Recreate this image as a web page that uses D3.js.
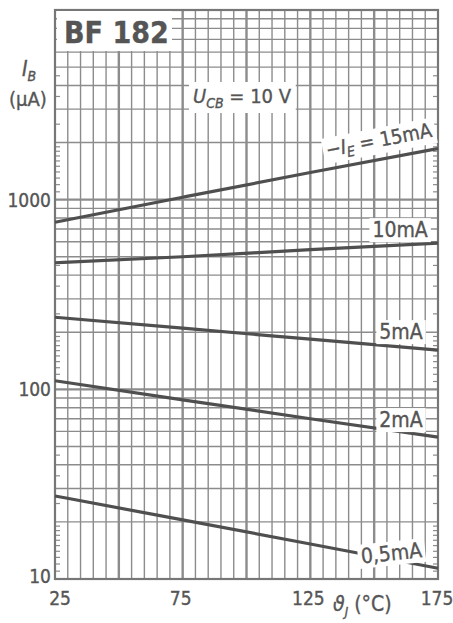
<!DOCTYPE html>
<html>
<head>
<meta charset="utf-8">
<script src="https://cdn.jsdelivr.net/npm/d3@7"></script>
<style>
  body { margin: 0; background: #fff; }
  svg { display: block; }
  text { font-family: "DejaVu Sans", sans-serif; font-stretch: condensed; fill: #555; stroke: #555; stroke-width: 0.35; }
</style>
</head>
<body>
<svg id="plotSvg" width="453" height="623"></svg>
<script>
// temperatures (°C) at which the curves were read
var temps = [25, 75, 125, 175];
// base current I_B (µA) for each emitter current
var ib15 = [760, 1030, 1390, 1860];
var ib10 = [465, 500, 545, 590];
var ib5 = [240, 210, 184, 161];
var ib2 = [111, 88, 70, 56];
var ib05 = [27.4, 20.5, 15.3, 11.4];
var curveNames = ["15mA", "10mA", "5mA", "2mA", "0,5mA"];
var xTicks = [25, 75, 125, 175];
var yTicks = [10, 100, 1000];

var svg = d3.select("#plotSvg");
var margin = {top: 10, left: 55};
var width = 383, height = 569;
var g = svg.append("g").attr("transform", "translate(" + margin.left + "," + margin.top + ")");

var x = d3.scaleLinear().domain([25, 175]).range([0, width]);
var y = d3.scaleLog().domain([10, 10000]).range([height, 0]);

// vertical grid, every 5 °C
var vlines = d3.range(30, 175, 5);
g.selectAll(".vgrid")
    .data(vlines)
    .enter().append("line")
    .attr("x1", function (d) { return x(d); })
    .attr("x2", function (d) { return x(d); })
    .attr("y1", 0).attr("y2", height)
    .attr("stroke", "#8c8c8c")
    .attr("stroke-width", function (d) { return d % 25 == 0 ? 2.4 : 1.4; });

// horizontal grid, 1..9 per decade
var hlines = [];
[10, 100, 1000].forEach(function (dec) {
    for (var k = 1; k <= 9; k++) hlines.push(dec * k);
});
g.selectAll(".hgrid")
    .data(hlines.slice(1))
    .enter().append("line")
    .attr("x1", 0).attr("x2", width)
    .attr("y1", function (d) { return y(d); })
    .attr("y2", function (d) { return y(d); })
    .attr("stroke", "#8c8c8c")
    .attr("stroke-width", function (d) { return yTicks.indexOf(d) >= 0 ? 2.4 : 1.4; });

// small ticks inside the frame
var minor = [];
[10, 100, 1000].forEach(function (dec) {
    [1.1, 1.2, 1.3, 1.4, 1.5, 1.6, 1.7, 1.8, 1.9, 2.5, 3.5, 4.5].forEach(function (k) {
        minor.push(dec * k);
    });
});
[0, width].forEach(function (edge) {
    g.selectAll(null)
        .data(minor)
        .enter().append("line")
        .attr("x1", edge).attr("x2", edge == 0 ? 5 : width - 5)
        .attr("y1", function (d) { return y(d); })
        .attr("y2", function (d) { return y(d); })
        .attr("stroke", "#8c8c8c")
        .attr("stroke-width", 1.2);
});

// frame
g.append("rect")
    .attr("width", width).attr("height", height)
    .attr("fill", "none")
    .attr("stroke", "#777")
    .attr("stroke-width", 2.2);

// curves
var series = [ib15, ib10, ib5, ib2, ib05];
var line = d3.line()
    .x(function (d, i) { return x(temps[i]); })
    .y(function (d) { return y(d); })
    .curve(d3.curveMonotoneX);

g.selectAll(".curve")
    .data(series)
    .enter().append("path")
    .attr("d", line)
    .attr("fill", "none")
    .attr("stroke", "#4f4f4f")
    .attr("stroke-width", 3.2);

// title box
g.append("rect")
    .attr("x", 2).attr("y", 1).attr("width", 115).attr("height", 40)
    .attr("fill", "#fff");
g.append("text")
    .attr("x", 9).attr("y", 33)
    .attr("font-size", 30).attr("font-weight", "bold")
    .text("BF 182");

function boxedLabel(parts, tx, ty, angle, size) {
    var lg = g.append("g").attr("transform", "translate(" + tx + "," + ty + ") rotate(" + angle + ")");
    var bg = lg.append("rect").attr("fill", "#fff");
    var t = lg.append("text").attr("font-size", size).attr("text-anchor", "end");
    parts.forEach(function (p) {
        var s = t.append("tspan").text(p.t);
        if (p.sub) s.attr("font-size", size * 0.7).attr("dy", 4);
        if (p.up) s.attr("dy", -4);
        if (p.it) s.attr("font-style", "italic");
    });
    var b = t.node().getBBox();
    bg.attr("x", b.x - 3).attr("y", b.y).attr("width", b.width + 6).attr("height", b.height);
}

// curve labels
boxedLabel([{t: "−I", it: true}, {t: "E", sub: true, it: true}, {t: " = 15" + curveNames[0].slice(2), up: true}],
    x(173), y(ib15[3]) - 12, -11, 20);
boxedLabel([{t: curveNames[1]}], x(171), y(ib10[3]) - 6, 0, 21);
boxedLabel([{t: curveNames[2]}], x(169), y(ib5[3]) - 11, 0, 21);
boxedLabel([{t: curveNames[3]}], x(169), y(ib2[3]) - 10, 0, 21);
boxedLabel([{t: curveNames[4]}], x(169), y(ib05[3]) - 11, -6, 21);

// U_CB label
var ul = g.append("g");
var ubg = ul.append("rect").attr("fill", "#fff");
var ut = ul.append("text").attr("x", 138).attr("y", 93).attr("font-size", 20);
ut.append("tspan").attr("font-style", "italic").text("U");
ut.append("tspan").attr("font-style", "italic").attr("font-size", 14).attr("dy", 5).text("CB");
ut.append("tspan").attr("dy", -5).text(" = 10 V");
var ub = ut.node().getBBox();
ubg.attr("x", ub.x - 4).attr("y", ub.y - 2).attr("width", ub.width + 8).attr("height", ub.height + 4);

// y tick labels
svg.selectAll(".ylab")
    .data(yTicks)
    .enter().append("text")
    .attr("x", 51)
    .attr("y", function (d) { return margin.top + y(d) + (d == 10 ? 4 : 7); })
    .attr("text-anchor", "end")
    .attr("font-size", 19)
    .text(function (d) { return d; });

// x tick labels
svg.selectAll(".xlab")
    .data(xTicks)
    .enter().append("text")
    .attr("x", function (d) { return margin.left + x(d) + (d == 25 ? 5 : d == 175 ? -1 : -2); })
    .attr("y", 605)
    .attr("text-anchor", "middle")
    .attr("font-size", 19)
    .text(function (d) { return d; });

// axis titles
var yt = svg.append("text").attr("x", 22).attr("y", 76).attr("font-size", 21);
yt.append("tspan").attr("font-style", "italic").text("I");
yt.append("tspan").attr("font-style", "italic").attr("font-size", 14).attr("dy", 5).text("B");
svg.append("text").attr("x", 9).attr("y", 106).attr("font-size", 20).text("(µA)");

var xt = svg.append("text").attr("x", 333).attr("y", 611).attr("font-size", 21);
xt.append("tspan").attr("font-style", "italic").text("ϑ");
xt.append("tspan").attr("font-style", "italic").attr("font-size", 13).attr("dy", 5).text("J");
xt.append("tspan").attr("dy", -5).text(" (°C)");
</script>
</body>
</html>
